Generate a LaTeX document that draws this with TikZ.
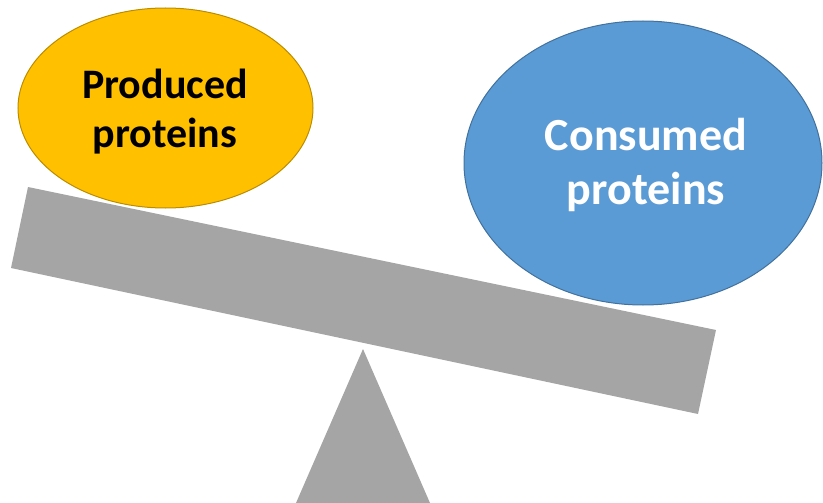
\documentclass[tikz,border=0pt]{standalone}
\usepackage{fontspec}
\setmainfont{Carlito}
\usetikzlibrary{shapes.geometric}
\definecolor{prodfill}{HTML}{FFC000}
\definecolor{proddraw}{HTML}{BC8C00}
\definecolor{consfill}{HTML}{5B9BD5}
\definecolor{consdraw}{HTML}{41719C}
\definecolor{beamgray}{HTML}{A5A5A5}
\begin{document}
\begin{tikzpicture}[x=1pt,y=-1pt,
  blob/.style={ellipse,inner sep=0pt,line width=1pt},
  label/.style={align=center,font=\bfseries,inner sep=0pt}]
\useasboundingbox (0,0) rectangle (823,503);
% fulcrum
\fill[beamgray] (363,349) -- (430,503) -- (296,503) -- cycle;
% beam
\fill[beamgray] (28,187) -- (716,330) -- (698,414) -- (11,268) -- cycle;
% ellipses
\node[blob,fill=prodfill,draw=proddraw,minimum width=295pt,minimum height=200pt] (prod) at (165.5,108) {};
\node[blob,fill=consfill,draw=consdraw,minimum width=358pt,minimum height=284pt] (cons) at (643,163) {};
\node[label,font=\fontsize{42}{49}\selectfont\bfseries,text=black] (prodtext) at (165,112) {Produced\\proteins};
\node[label,font=\fontsize{46}{54}\selectfont\bfseries,text=white] (constext) at (646,165) {Consumed\\proteins};
\end{tikzpicture}
\end{document}
